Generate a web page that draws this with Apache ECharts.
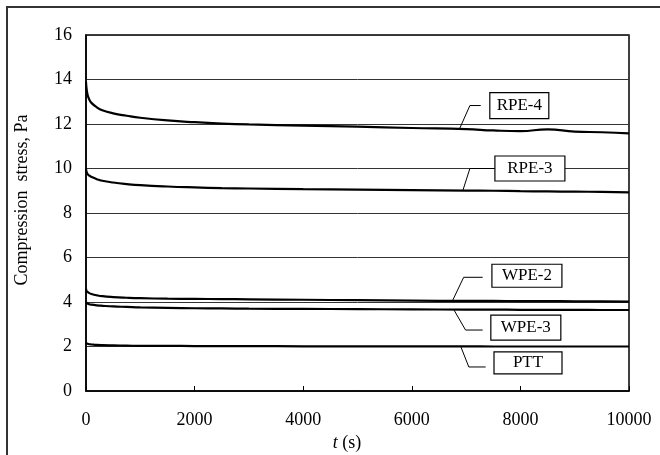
<!DOCTYPE html>
<html><head><meta charset="utf-8">
<script src="https://cdn.jsdelivr.net/npm/echarts@6/dist/echarts.min.js"></script>
<style>html,body{margin:0;padding:0;background:#fff}#c{width:660px;height:455px}</style>
</head><body><div id="c"></div>
<script>
// ---- data ----
const times = [0, 10, 30, 60, 100, 200, 300, 500, 750, 1000, 1500, 2000, 2500, 3000, 4000, 5000, 6000, 7000, 7500, 8000, 8500, 9000, 9500, 10000];
const rpe4 = [13.9, 13.6, 13.3, 13.1, 12.95, 12.75, 12.62, 12.48, 12.37, 12.28, 12.16, 12.08, 12.02, 11.98, 11.93, 11.88, 11.82, 11.77, 11.71, 11.68, 11.76, 11.66, 11.63, 11.58];
const rpe3 = [10.0, 9.85, 9.75, 9.68, 9.62, 9.52, 9.45, 9.37, 9.3, 9.25, 9.19, 9.15, 9.12, 9.1, 9.07, 9.05, 9.03, 9.01, 9.0, 8.98, 8.97, 8.96, 8.95, 8.93];
const wpe2 = [4.6, 4.5, 4.45, 4.4, 4.36, 4.3, 4.26, 4.22, 4.19, 4.17, 4.15, 4.14, 4.13, 4.12, 4.1, 4.08, 4.06, 4.05, 4.05, 4.04, 4.04, 4.03, 4.03, 4.02];
const wpe3 = [4.0, 3.97, 3.93, 3.9, 3.88, 3.85, 3.83, 3.8, 3.78, 3.76, 3.74, 3.72, 3.71, 3.7, 3.69, 3.68, 3.67, 3.66, 3.66, 3.65, 3.65, 3.65, 3.64, 3.64];
const ptt  = [2.18, 2.15, 2.12, 2.1, 2.09, 2.07, 2.06, 2.05, 2.04, 2.03, 2.03, 2.02, 2.02, 2.02, 2.01, 2.01, 2.01, 2.01, 2.0, 2.0, 2.0, 2.0, 2.0, 2.0];
const seriesNames = ['RPE-4', 'RPE-3', 'WPE-2', 'WPE-3', 'PTT'];
const seriesValues = [rpe4, rpe3, wpe2, wpe3, ptt];
const xTicks = [0, 2000, 4000, 6000, 8000, 10000];
const yTicks = [0, 2, 4, 6, 8, 10, 12, 14, 16];
const yTitle = 'Compression  stress, Pa';

// ---- callout layout (data coordinates: curve point, elbow, line end, box centre) ----
const callouts = [
  {name:'RPE-4', curve:[6880, 11.79], elbow:[7070, 12.83], end:[7270, 12.83], box:[7980, 12.83], w:59, h:26},
  {name:'RPE-3', curve:[6940, 9.01],  elbow:[7070, 10.0],  end:[7530, 10.0],  box:[8175, 10.0],  w:70, h:25},
  {name:'WPE-2', curve:[6750, 4.06],  elbow:[6955, 5.11],  end:[7305, 5.11],  box:[8120, 5.18],  w:70, h:23},
  {name:'WPE-3', curve:[6770, 3.67],  elbow:[6990, 2.74],  end:[7305, 2.74],  box:[8100, 2.85],  w:70, h:25},
  {name:'PTT',   curve:[6900, 2.01],  elbow:[7050, 1.08],  end:[7360, 1.08],  box:[8140, 1.26],  w:68, h:22}
];

const FONT = '"Liberation Serif","Times New Roman",serif';
const chart = echarts.init(document.getElementById('c'), null, {renderer:'canvas'});

const series = seriesNames.map((n, i) => ({
  name: n, type: 'line', showSymbol: false, smooth: true,
  data: times.map((t, j) => [t, seriesValues[i][j]]),
  lineStyle: {color: '#000', width: 2.2}, z: 5
}));

chart.setOption({
  animation: false,
  backgroundColor: '#fff',
  grid: {left: 86, right: 31, top: 35, bottom: 64, show: true, borderColor: '#000', borderWidth: 1.5},
  xAxis: {
    type: 'value', min: xTicks[0], max: xTicks[xTicks.length - 1], interval: xTicks[1] - xTicks[0],
    axisLine: {lineStyle: {color: '#000', width: 1.5}},
    axisTick: {inside: true, length: 5, lineStyle: {color: '#000'}},
    splitLine: {show: false},
    axisLabel: {color: '#000', fontFamily: FONT, fontSize: 18, margin: 20, formatter: v => String(v)}
  },
  yAxis: {
    type: 'value', min: yTicks[0], max: yTicks[yTicks.length - 1], interval: yTicks[1] - yTicks[0],
    axisLine: {lineStyle: {color: '#000', width: 1.5}},
    axisTick: {show: false},
    splitLine: {lineStyle: {color: '#333', width: 1}},
    axisLabel: {color: '#000', fontFamily: FONT, fontSize: 18, margin: 14, formatter: v => String(v)}
  },
  series: series
});

function px(p) { return chart.convertToPixel({gridIndex: 0}, p); }
const graphics = [
  {type: 'polyline', shape: {points: [[7, 460], [7, 7], [665, 7]]}, style: {fill: null, stroke: '#333', lineWidth: 2}, silent: true},
  {type: 'text', x: 22, y: 200, rotation: Math.PI / 2, style: {text: yTitle, font: '18px ' + FONT, fill: '#000', textAlign: 'center', textVerticalAlign: 'middle'}},
  {type: 'text', x: 347, y: 443, style: {rich: {i: {font: 'italic 18px ' + FONT, fill: '#000'}, n: {font: '18px ' + FONT, fill: '#000'}},
    text: '{i|t}{n| (s)}', textAlign: 'center', textVerticalAlign: 'middle'}}
];
callouts.forEach(c => {
  const a = px(c.curve), b = px(c.elbow), e = px(c.end), m = px(c.box);
  graphics.push({type: 'polyline', z: 10, shape: {points: [a, b, e]}, style: {stroke: '#000', lineWidth: 1, fill: null}});
  graphics.push({type: 'rect', z: 10, shape: {x: m[0] - c.w / 2, y: m[1] - c.h / 2, width: c.w, height: c.h},
    style: {fill: '#fff', stroke: '#000', lineWidth: 1.2}});
  graphics.push({type: 'text', z: 11, x: m[0], y: m[1], style: {text: c.name, font: '17px ' + FONT, fill: '#000', textAlign: 'center', textVerticalAlign: 'middle'}});
});
chart.setOption({graphic: graphics});
</script></body></html>
